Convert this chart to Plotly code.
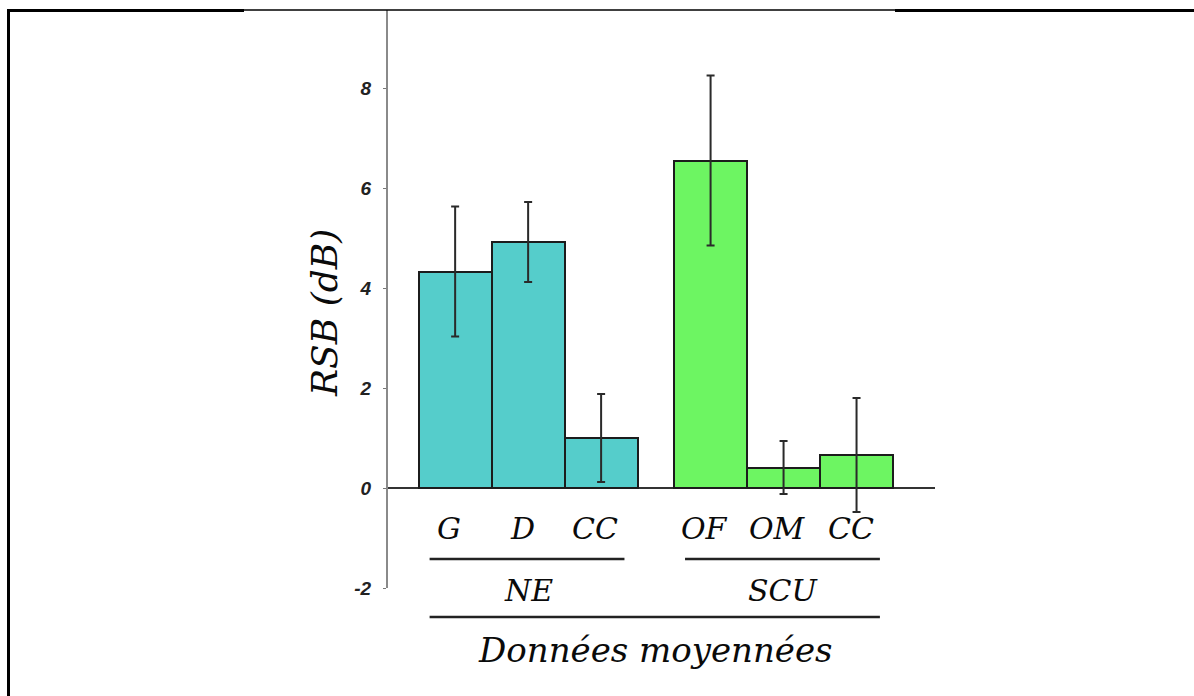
import plotly.graph_objects as go

# Mean SNR gain per condition, with error bars
categories = ["G", "D", "CC", "OF", "OM", "CC"]
groups = ["NE", "NE", "NE", "SCU", "SCU", "SCU"]
positions = [0, 1, 2, 3.5, 4.5, 5.5]
values = [4.33, 4.92, 1.0, 6.55, 0.41, 0.66]
errors = [1.3, 0.8, 0.88, 1.7, 0.53, 1.14]
y_ticks = [-2, 0, 2, 4, 6, 8]
group_names = ["NE", "SCU"]
group_colors = {"NE": "#55CDCB", "SCU": "#6DF562"}
footer = "Données moyennées"

W, H = 1194, 696
M_L, M_R, M_T, M_B = 388, 259, 10, 108
X_RANGE = [-0.92, 6.575]
Y_RANGE = [-2, 9.56]

SERIF = "DejaVu Serif"
LABEL_FONT = dict(family=SERIF, size=30, color="#0a0a0a", style="italic")


def xpaper(x):
    return (x - X_RANGE[0]) / (X_RANGE[1] - X_RANGE[0])


def ypaper(y):
    return (y - Y_RANGE[0]) / (Y_RANGE[1] - Y_RANGE[0])


def px_x(px):
    return (px - M_L) / (W - M_L - M_R)


def px_y(py):
    return (H - M_B - py) / (H - M_T - M_B)


fig = go.Figure()
for g in group_names:
    idx = [i for i, gg in enumerate(groups) if gg == g]
    fig.add_trace(go.Bar(
        x=[positions[i] for i in idx],
        y=[values[i] for i in idx],
        width=1.0,
        marker=dict(color=group_colors[g], line=dict(color="#1c1c1c", width=2)),
        error_y=dict(type="data", array=[errors[i] for i in idx],
                     color="#2a2a2a", thickness=2, width=4),
        showlegend=False,
        cliponaxis=False,
    ))

annotations = []
shapes = []

# category labels under each bar
for x, c in zip(positions, categories):
    annotations.append(dict(x=xpaper(x - 0.08), y=ypaper(-0.8), xref="paper", yref="paper",
                            text=c, showarrow=False, xanchor="center", yanchor="middle",
                            font=LABEL_FONT))

# group underlines and names
for g in group_names:
    xs = [positions[i] for i, gg in enumerate(groups) if gg == g]
    x0, x1 = min(xs) - 0.35, max(xs) + 0.32
    shapes.append(dict(type="line", xref="paper", yref="paper",
                       x0=xpaper(x0), x1=xpaper(x1), y0=ypaper(-1.42), y1=ypaper(-1.42),
                       line=dict(color="#222", width=2.5)))
    annotations.append(dict(x=xpaper((min(xs) + max(xs)) / 2), y=ypaper(-2.04),
                            xref="paper", yref="paper", text=g,
                            showarrow=False, xanchor="center", yanchor="middle",
                            font=LABEL_FONT))

shapes.append(dict(type="line", xref="paper", yref="paper",
                   x0=xpaper(min(positions) - 0.35), x1=xpaper(max(positions) + 0.32),
                   y0=ypaper(-2.58), y1=ypaper(-2.58),
                   line=dict(color="#222", width=2.5)))
annotations.append(dict(x=xpaper((min(positions) + max(positions)) / 2), y=ypaper(-3.24),
                        xref="paper", yref="paper",
                        text=footer, showarrow=False, xanchor="center", yanchor="middle",
                        font=dict(LABEL_FONT, size=34)))

# y-axis title
annotations.append(dict(x=px_x(325), y=px_y(313), xref="paper", yref="paper",
                        text="RSB (dB)", textangle=-90, showarrow=False,
                        xanchor="center", yanchor="middle",
                        font=dict(family=SERIF, size=36, color="#0a0a0a", style="italic")))

# page frame: left rule and top rule (thick ends, thin middle)
shapes += [
    dict(type="line", xref="paper", yref="paper", x0=px_x(8.5), x1=px_x(8.5),
         y0=px_y(9), y1=px_y(700), line=dict(color="black", width=3)),
    dict(type="line", xref="paper", yref="paper", x0=px_x(7), x1=px_x(244),
         y0=px_y(10.5), y1=px_y(10.5), line=dict(color="black", width=3)),
    dict(type="line", xref="paper", yref="paper", x0=px_x(244), x1=px_x(895),
         y0=px_y(10), y1=px_y(10), line=dict(color="black", width=1.5)),
    dict(type="line", xref="paper", yref="paper", x0=px_x(895), x1=px_x(1196),
         y0=px_y(10.5), y1=px_y(10.5), line=dict(color="black", width=3)),
]

fig.update_layout(
    width=W, height=H,
    margin=dict(l=M_L, r=M_R, t=M_T, b=M_B, pad=0),
    paper_bgcolor="white", plot_bgcolor="white",
    bargap=0,
    xaxis=dict(range=X_RANGE, visible=False, fixedrange=True),
    yaxis=dict(range=Y_RANGE, tickvals=y_ticks, ticktext=[str(t) for t in y_ticks],
               showgrid=False, showline=True, linecolor="#8a8a8a", linewidth=2,
               zeroline=True, zerolinecolor="#333", zerolinewidth=2,
               ticks="outside", ticklen=3, tickcolor="#777", tickwidth=1,
               ticklabelstandoff=8,
               tickfont=dict(family="Liberation Sans", size=19, color="#222",
                             weight="bold", style="italic")),
    annotations=annotations,
    shapes=shapes,
)

fig.write_html("out.html")
